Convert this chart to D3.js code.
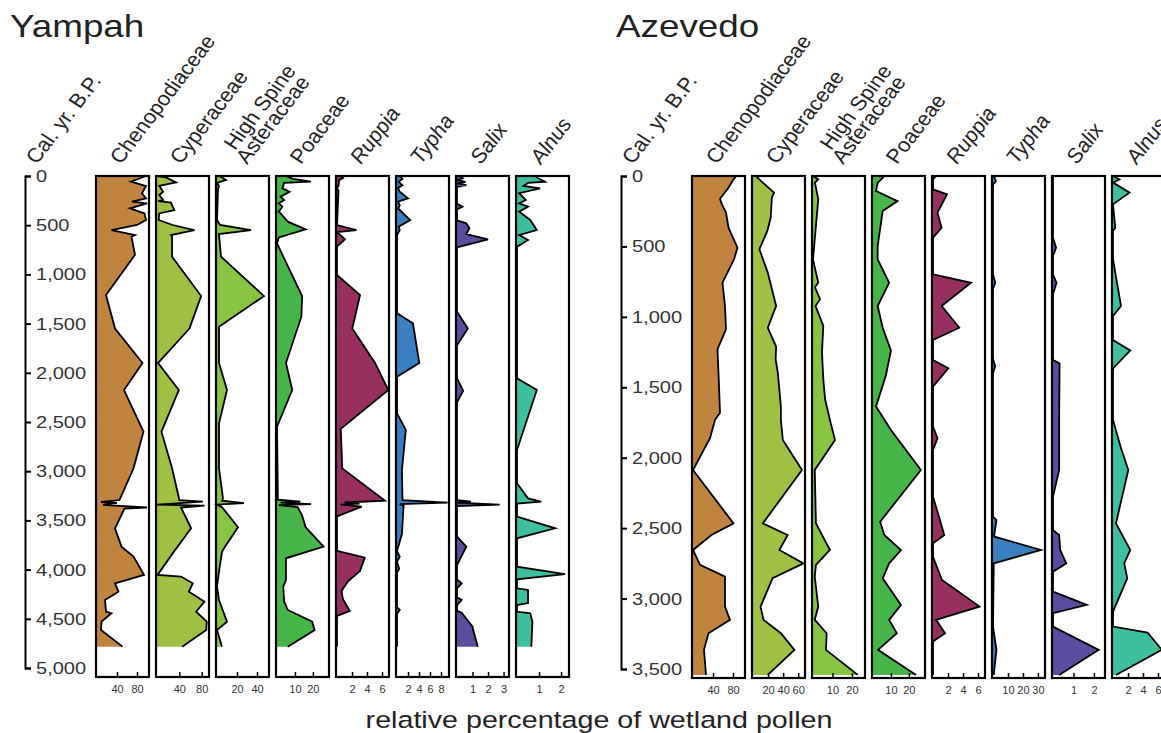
<!DOCTYPE html>
<html>
<head>
<meta charset="utf-8">
<script src="https://d3js.org/d3.v7.min.js"></script>
<style>
body { margin: 0; background: #fff; }
text { font-family: "Liberation Sans", Arial, Helvetica, sans-serif; }
</style>
</head>
<body>
<div id="chart"></div>
<script>
// taxa shown in both cores, left to right
var taxa = ["Chenopodiaceae", "Cyperaceae", "High Spine Asteraceae", "Poaceae", "Ruppia", "Typha", "Salix", "Alnus"];
var italicTaxa = ["Ruppia", "Typha", "Salix", "Alnus"];
var taxaColors = ["#c1843f", "#a0c044", "#86c441", "#47b649", "#97305e", "#3a7fc0", "#5d4da0", "#3cc09e"];

// ---- Yampah: [cal. yr B.P., % wetland pollen] ----
var yampahChen = [[0,98],[58,68],[102,98],[176,90],[227,98],[260,70],[278,100],[329,66],[380,95],[447,98],[498,80],[549,29],[600,76],[617,69],[800,76],[1210,18],[1550,36],[1900,91],[2175,54],[2598,93],[2971,73],[3293,45],[3313,8],[3323,40],[3343,12],[3369,100],[3380,55],[3580,36],[3767,49],[3868,73],[4054,94],[4139,36],[4224,43],[4309,16],[4427,18],[4444,29],[4529,9],[4614,8],[4783,51]];
var yampahCyper = [[0,0],[15,16],[66,34],[100,4],[160,11],[193,4],[244,11],[255,2],[271,25],[346,31],[380,4],[447,3],[498,28],[549,67],[600,25],[617,27],[820,27],[1220,79],[1550,58],[1900,2],[2175,39],[2598,8],[2971,27],[3293,40],[3310,82],[3320,55],[3340,0],[3350,85],[3370,43],[3580,61],[3835,28],[4054,1],[4071,43],[4139,64],[4224,57],[4326,85],[4427,70],[4529,89],[4614,88],[4783,45]];
var yampahHSA = [[0,2],[15,5],[40,9],[70,0],[100,2],[135,1],[447,0],[498,3],[549,34],[590,2],[820,4],[1220,47],[1531,2],[1900,2],[2175,10],[2514,2],[2971,2],[3276,6],[3300,5],[3325,27],[3340,0],[3365,5],[3570,21],[3767,8],[3820,5],[4020,2],[4170,0],[4309,2],[4529,10],[4614,0],[4783,5]];
var yampahPoac = [[0,5],[30,9],[58,19],[70,4],[126,3],[160,7],[210,2],[244,4],[278,1],[312,3],[363,1],[400,3],[464,6],[542,16],[624,1],[685,0],[1220,14],[1430,13.6],[1900,5],[2175,8.5],[2547,0],[3290,0.5],[3310,13],[3320,2],[3335,19],[3345,1],[3365,11.5],[3451,14],[3570,16],[3767,26],[3885,5],[4105,5],[4173,3.5],[4326,4],[4410,6],[4529,19.6],[4614,21],[4783,6]];
var yampahRupp = [[0,0.5],[20,0.8],[40,0.3],[100,0.2],[125,0],[150,0.2],[498,0],[549,2.6],[570,0],[644,1.07],[718,0],[1006,0],[1210,3.07],[1550,2.04],[1900,5.07],[2175,6.84],[2570,0.5],[2971,0.7],[3300,6.4],[3318,1],[3330,3],[3340,0.5],[3360,3.3],[3460,0],[3810,0],[3878,3.7],[4013,3.07],[4116,1.5],[4218,0.6],[4300,0.8],[4420,1.7],[4470,0],[4783,0]];
var yampahTyph = [[0,0.5],[30,1],[60,0.3],[95,1],[120,0.2],[160,0.5],[227,2],[260,0.2],[300,0.5],[330,0.2],[447,2.4],[515,0.3],[550,0.5],[600,0],[718,0],[1396,0],[1497,2.9],[1900,4.05],[2040,0],[2412,0],[2581,1.6],[2988,0.9],[3293,1],[3320,9.2],[3335,0.5],[3350,1.2],[3638,0.9],[3810,0],[3870,0.5],[3920,0],[3990,0.4],[4030,0],[4380,0],[4410,0.5],[4450,0],[4783,0]];
var yampahSalix = [[0,0.2],[24,0.37],[40,0],[60,0.55],[75,0],[92,0.6],[110,0],[280,0],[312,0.35],[340,0],[450,0],[481,0.6],[532,0.8],[590,0.6],[644,2.0],[725,0],[1379,0],[1550,0.7],[1720,0],[2056,0],[2182,0.4],[2300,0],[3293,0],[3310,0.9],[3320,0],[3340,2.75],[3355,0],[3666,0],[3767,0.6],[3953,0],[4100,0],[4139,0.3],[4190,0],[4280,0],[4309,0.3],[4360,0],[4420,0],[4438,0.3],[4580,1.0],[4648,1.1],[4783,1.34]];
var yampahAlnus = [[0,0.9],[15,0.9],[58,1.27],[70,0.5],[100,0.3],[126,1.05],[175,0.1],[244,0.4],[278,0.1],[312,0.5],[363,0.1],[447,0.6],[549,0.9],[600,0.1],[650,0.5],[718,0],[2056,0],[2175,0.9],[2785,0],[3123,0],[3276,0.5],[3310,1.1],[3330,0],[3462,0],[3580,1.73],[3682,0],[3970,0],[4045,2.18],[4099,0],[4190,0],[4207,0.5],[4340,0.5],[4360,0],[4427,0],[4445,0.6],[4529,0.7],[4783,0.65]];

// ---- Azevedo ----
var azevedoChen = [[0,87],[24,81],[83,71],[162,54],[201,58],[260,66],[367,71],[509,89],[592,82],[757,59],[923,64],[1088,66],[1230,49],[1490,52],[1680,54],[1732,44],[1862,34],[2087,0],[2466,81],[2549,37],[2655,0],[2761,14],[2844,64],[3057,64],[3151,74],[3246,31],[3364,22],[3542,26]];
var azevedoCyper = [[0,4],[36,10.7],[118,28],[154,25],[296,23.5],[390,19],[520,8.5],[686,19.6],[923,30.7],[1077,19.6],[1211,30.7],[1300,30],[1400,33],[1637,37],[1732,37],[1874,39.6],[2087,65],[2466,13],[2549,46],[2655,35],[2750,67],[2856,26],[3057,10],[3151,14],[3246,37],[3364,55],[3542,19.6]];
var azevedoHSA = [[0,0],[24,2.7],[47,1],[166,2.7],[592,0],[757,2.7],[790,1],[875,3.6],[923,1.3],[1064,5.3],[1253,4.6],[1442,5.3],[1584,6.2],[1732,8.7],[1874,11.3],[2087,0.9],[2466,1.5],[2655,8.7],[2761,1.5],[2844,0.9],[3057,2.7],[3151,0.9],[3246,7],[3364,6.7],[3542,23]];
var azevedoPoac = [[0,6.3],[24,4.6],[47,2.6],[107,1.7],[178,13.7],[249,5.4],[498,2.6],[592,2.6],[758,9],[923,2.6],[1077,5.4],[1239,10],[1414,7.2],[1637,1.7],[1803,10],[2087,26.7],[2454,4],[2549,6.3],[2655,15.6],[2750,9],[2856,5.4],[3045,15.6],[3151,9],[3246,13.3],[3364,2.8],[3542,24]];
var azevedoRupp = [[0,0.4],[24,0],[95,0],[130,1.87],[260,0.6],[367,1.15],[438,0],[698,0],[758,5.07],[923,1.15],[1077,3.5],[1164,0],[1306,0],[1365,2.04],[1495,0],[1779,0],[1862,0.6],[1945,0],[2277,0],[2419,0.8],[2549,1.5],[2608,0],[2703,0],[2868,1.2],[3057,6.2],[3151,0.4],[3246,1.6],[3305,0],[3542,0]];
var azevedoTyph = [[0,0.5],[36,2],[60,0],[700,0],[758,1.5],[800,0],[1300,0],[1350,1.5],[1400,0],[2419,0],[2442,2.3],[2549,0.8],[2561,1],[2655,32],[2750,0.5],[3200,0],[3364,2.3],[3542,0.5]];
var azevedoSalix = [[0,0],[438,0],[509,0.15],[568,0],[700,0],[758,0.17],[840,0],[1306,0],[1330,0.32],[1365,0.32],[1732,0.3],[2087,0.3],[2277,0],[2514,0],[2549,0.3],[2655,0.35],[2750,0.65],[2809,0],[2951,0],[3045,1.65],[3104,0],[3199,0],[3364,2.23],[3542,0.3]];
var azevedoAlnus = [[0,0],[24,0.85],[47,0],[118,2.2],[201,0],[367,0.3],[390,0],[592,0],[923,1.07],[994,0],[1164,0],[1239,2.3],[1365,0],[1732,0],[1921,1.0],[2087,2.04],[2466,0.4],[2655,2.3],[2750,1.5],[2856,1.9],[3092,0],[3199,0],[3241,4.6],[3364,6.5],[3542,0.4]];

// ---- tick labels ----
var yampahAgeTicks = [0,500,1000,1500,2000,2500,3000,3500,4000,4500,5000];
var azevedoAgeTicks = [0,500,1000,1500,2000,2500,3000,3500];
var yampahPctTicks = [[40,80],[40,80],[20,40],[10,20],[2,4,6],[2,4,6,8],[1,2,3],[1,2]];
var azevedoPctTicks = [[40,80],[20,40,60],[10,20],[10,20],[2,4,6],[10,20,30],[1,2],[2,4,6]];
// upper end of each panel's percentage scale
var yampahPctMax = [104, 93, 52, 29, 6.93, 9.45, 3.35, 2.36];
var azevedoPctMax = [104, 69, 26.7, 29, 6.93, 34.7, 2.54, 6.93];

var sites = [
  { name: "Yampah", titleX: 10, axisX: 25, panelX: 96, ageMax: 5000, yEnd: 668, boxH: 501,
    ageTicks: yampahAgeTicks, pctTicks: yampahPctTicks, pctMax: yampahPctMax,
    series: [yampahChen, yampahCyper, yampahHSA, yampahPoac, yampahRupp, yampahTyph, yampahSalix, yampahAlnus] },
  { name: "Azevedo", titleX: 616, axisX: 621, panelX: 692, ageMax: 3500, yEnd: 669, boxH: 502,
    ageTicks: azevedoAgeTicks, pctTicks: azevedoPctTicks, pctMax: azevedoPctMax,
    series: [azevedoChen, azevedoCyper, azevedoHSA, azevedoPoac, azevedoRupp, azevedoTyph, azevedoSalix, azevedoAlnus] }
];

var SX = 1.18; // lettering is a little wide
var top0 = 176, panelW = 53, panelStep = 60, headY = 165;

var svg = d3.select("#chart").append("svg")
  .attr("width", 1161).attr("height", 733);

function header(g, x, y, label, italic) {
  g.append("text")
    .attr("transform", "translate(" + x + "," + y + ") scale(1.1,1) rotate(-55)")
    .style("font-size", "20px")
    .style("font-style", italic ? "italic" : "normal")
    .attr("fill", "#222")
    .text(label);
}

sites.forEach(function(site) {
  var y = d3.scaleLinear().domain([0, site.ageMax]).range([top0, site.yEnd]);
  var g = svg.append("g");

  g.append("text")
    .attr("transform", "translate(" + site.titleX + ",37) scale(1.15,1)")
    .style("font-size", "32px").attr("fill", "#222")
    .text(site.name);

  // age axis
  var ax = g.append("g")
    .attr("transform", "translate(" + site.axisX + ",0)")
    .call(d3.axisRight(y).tickValues(site.ageTicks).tickSize(6).tickFormat(d3.format(",")));
  ax.attr("font-size", null).attr("font-family", null);
  ax.select(".domain").attr("stroke", "#000").attr("stroke-width", 2);
  ax.selectAll(".tick line").attr("stroke", "#000").attr("stroke-width", 2);
  ax.selectAll(".tick text")
    .attr("x", 11 / SX).attr("transform", "scale(" + SX + ",1)")
    .attr("fill", "#333").style("font-size", "17px");

  header(g, site.axisX + 12, headY, "Cal. yr. B.P.", false);

  site.series.forEach(function(data, i) {
    var left = site.panelX + i * panelStep;
    var x = d3.scaleLinear().domain([0, site.pctMax[i]]).range([left + 1, left + panelW]);

    var area = d3.area().y(function(d) { return y(d[0]); })
      .x0(x(0)).x1(function(d) { return x(d[1]); });
    var line = d3.line().y(function(d) { return y(d[0]); })
      .x(function(d) { return x(d[1]); });

    g.append("path").datum(data).attr("d", area).attr("fill", taxaColors[i]);
    g.append("path").datum(data).attr("d", line)
      .attr("fill", "none").attr("stroke", "#000").attr("stroke-width", 1.8);

    g.append("rect")
      .attr("x", left).attr("y", top0).attr("width", panelW).attr("height", site.boxH)
      .attr("fill", "none").attr("stroke", "#000").attr("stroke-width", 2.2);

    var bx = g.append("g")
      .attr("transform", "translate(0," + (top0 + site.boxH) + ")")
      .call(d3.axisBottom(x).tickValues(site.pctTicks[i]).tickSize(-5).tickPadding(8)
        .tickFormat(d3.format("~g")));
    bx.attr("font-size", null).attr("font-family", null);
    bx.select(".domain").remove();
    bx.selectAll(".tick line").attr("stroke", "#000").attr("stroke-width", 1.5);
    bx.selectAll(".tick text").attr("fill", "#333").style("font-size", "11px");

    var name = taxa[i];
    if (name === "High Spine Asteraceae") {
      header(g, left + 19, headY - 14, "High Spine", false);
      header(g, left + 31, headY, "Asteraceae", false);
    } else {
      header(g, left + 25, headY, name, italicTaxa.indexOf(name) >= 0);
    }
  });
});

svg.append("text")
  .attr("transform", "translate(599,728) scale(1.22,1)")
  .attr("text-anchor", "middle")
  .style("font-size", "23.5px").attr("fill", "#222")
  .text("relative percentage of wetland pollen");
</script>
</body>
</html>
